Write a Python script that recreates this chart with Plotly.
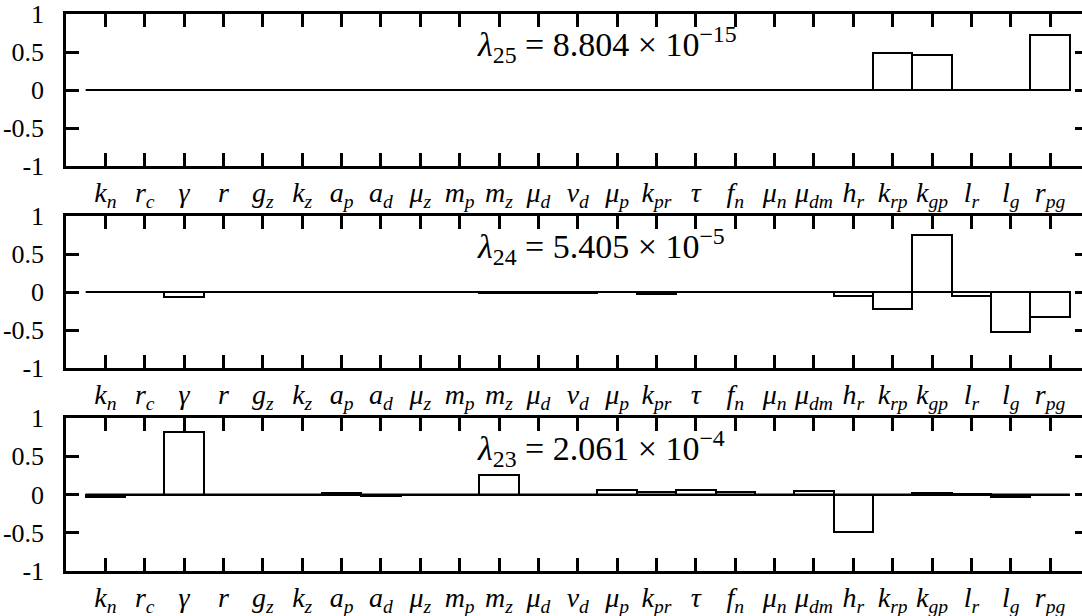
import plotly.graph_objects as go
from plotly.subplots import make_subplots

# parameter names (x categories)
labels = ["k<sub>n</sub>", "r<sub>c</sub>", "γ", "r", "g<sub>z</sub>", "k<sub>z</sub>",
          "a<sub>p</sub>", "a<sub>d</sub>", "μ<sub>z</sub>", "m<sub>p</sub>", "m<sub>z</sub>",
          "μ<sub>d</sub>", "v<sub>d</sub>", "μ<sub>p</sub>", "k<sub>pr</sub>", "τ",
          "f<sub>n</sub>", "μ<sub>n</sub>", "μ<sub>dm</sub>", "h<sub>r</sub>", "k<sub>rp</sub>",
          "k<sub>gp</sub>", "l<sub>r</sub>", "l<sub>g</sub>", "r<sub>pg</sub>"]

# eigenvector components, one list per eigenvalue
vec25 = [0, 0, 0, 0, 0, 0, 0, 0, 0, 0, 0, 0, 0, 0, 0, 0, 0, 0, 0, 0,
         0.49, 0.46, 0, 0, 0.73]
vec24 = [0, 0, -0.07, 0, 0, 0, 0, 0, 0, 0, -0.01, -0.01, -0.01, 0, -0.02, 0, 0, 0, 0, -0.05,
         -0.23, 0.75, -0.05, -0.52, -0.33]
vec23 = [-0.035, 0, 0.82, 0, 0, -0.01, 0.02, -0.02, -0.01, -0.01, 0.26, -0.01, -0.01, 0.06, 0.03,
         0.06, 0.03, -0.01, 0.05, -0.49, -0.01, 0.02, 0.01, -0.035, -0.01]

titles = ["<i>λ</i><sub>25</sub> = 8.804 × 10<sup>−15</sup>",
          "<i>λ</i><sub>24</sub> = 5.405 × 10<sup>−5</sup>",
          "<i>λ</i><sub>23</sub> = 2.061 × 10<sup>−4</sup>"]

yticks = [-1, -0.5, 0, 0.5, 1]
ytext = ["-1", "-0.5", "0", "0.5", "1"]

FONT = "Liberation Serif"
W, H = 1082, 616
# panel frames in pixels (top, bottom)
frames = [(14, 166), (216, 368), (418, 571)]

fig = make_subplots(rows=3, cols=1)

for i, vals in enumerate([vec25, vec24, vec23]):
  row = i + 1
  fig.add_trace(go.Bar(x=labels, y=vals, width=1, showlegend=False,
                       marker=dict(color="rgba(0,0,0,0)", line=dict(color="black", width=2))),
                row=row, col=1)
  # baseline of the boxes
  xr = "x" if row == 1 else "x" + str(row)
  yr = "y" if row == 1 else "y" + str(row)
  fig.add_shape(type="line", xref=xr, yref=yr, x0=-0.5, x1=len(labels) - 0.5, y0=0, y1=0,
                line=dict(color="black", width=2))
  fig.add_annotation(text=titles[i], xref="paper", yref=yr + " domain", x=0.4026, y=0.80,
                     xanchor="left", yanchor="middle", showarrow=False,
                     font=dict(family=FONT, size=34, color="black"))

  top, bot = frames[i]
  dom = [1 - bot / H, 1 - top / H]
  fig.update_xaxes(row=row, col=1, domain=[0, 1], range=[-1, 24.81], showline=True,
                   linecolor="black", linewidth=2.5, mirror="ticks", ticks="inside",
                   ticklen=13, tickwidth=2.5, tickcolor="black", showgrid=False,
                   automargin=False, ticklabelstandoff=0,
                   tickfont=dict(family=FONT, size=28, color="black", style="italic"))
  fig.update_yaxes(row=row, col=1, domain=dom, range=[-1, 1], showline=True,
                   linecolor="black", linewidth=2.5, mirror=False, ticks="inside",
                   ticklen=13, tickwidth=2.5, tickcolor="black", showgrid=False,
                   automargin=False, zeroline=False, tickvals=yticks, ticktext=ytext,
                   ticklabelstandoff=14, tickfont=dict(family=FONT, size=26, color="black"))

  # right-hand ticks (the right frame edge lies outside the picture)
  ax_name = "yaxis" + str(row + 3)
  fig.update_layout(**{ax_name: dict(overlaying=yr, side="right", anchor=xr, range=[-1, 1],
                                     tickvals=[-0.5, 0, 0.5], ticks="inside", ticklen=7,
                                     tickwidth=2.5, tickcolor="black", showticklabels=False,
                                     showgrid=False, zeroline=False, showline=False,
                                     automargin=False)})
  fig.add_trace(go.Scatter(x=[None], y=[None], xaxis=xr, yaxis="y" + str(row + 3),
                           showlegend=False, hoverinfo="skip"))

fig.update_layout(template="none", width=W, height=H,
                  margin=dict(l=66, r=0, t=0, b=0, autoexpand=False),
                  plot_bgcolor="white", paper_bgcolor="white", bargap=0)

# drop the browser's default body margin so the figure sits at the page corner
fig.write_html("out.html", config={"displayModeBar": False},
               post_script="document.body.style.margin = '0px';")
